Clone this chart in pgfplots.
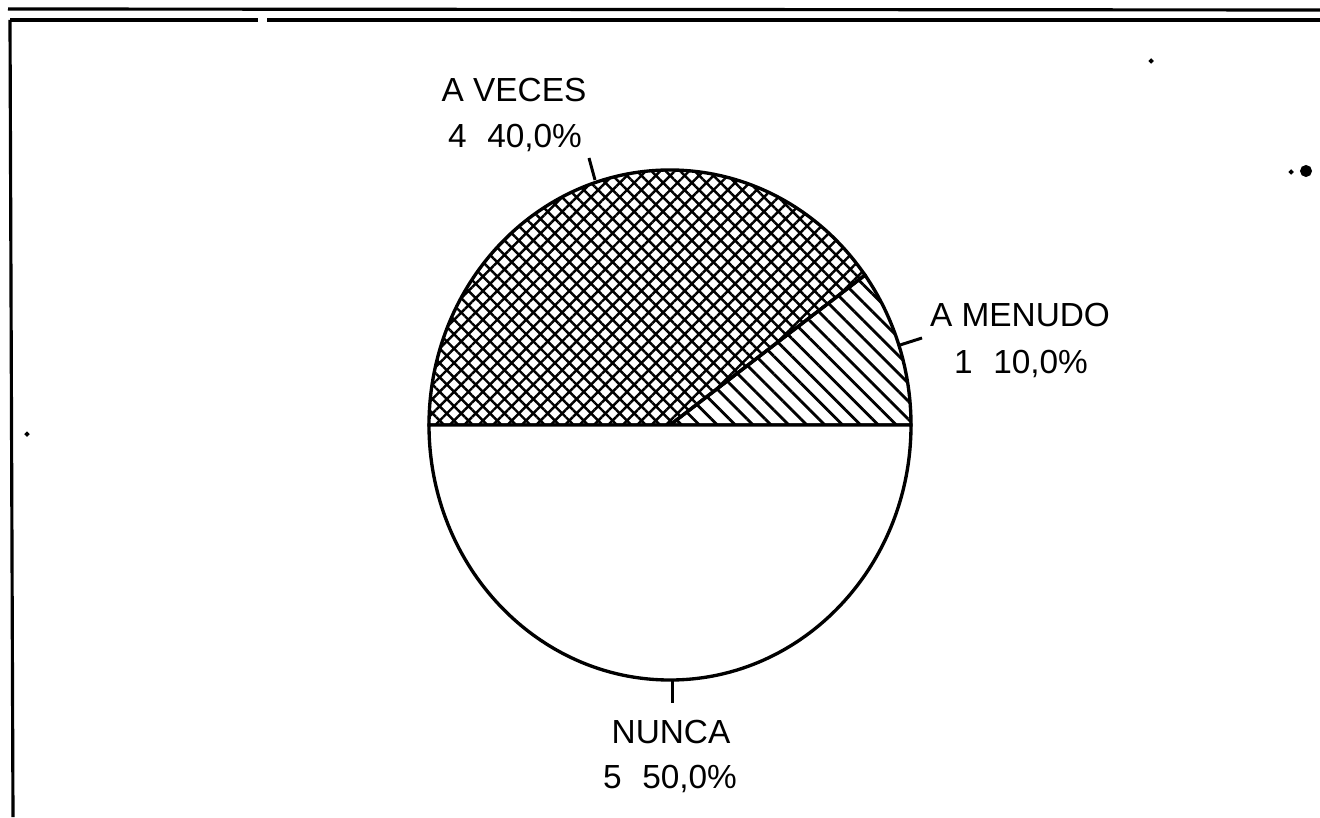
\documentclass[border=0pt]{standalone}
\usepackage{fontspec}
\setmainfont{Liberation Sans}
\usepackage{pgfplots}
\pgfplotsset{compat=1.18}
\usepackage{pgfplotstable}
\usetikzlibrary{patterns.meta}

% respuestas: cuenta por categoria
\pgfplotstableread{
label count
menudo 1
veces 4
nunca 5
}\pietable

\begin{document}
\begin{tikzpicture}[lbl/.style={font=\fontsize{9.5}{12}\selectfont, anchor=base, inner sep=0pt}]
\pgfplotstablegetelem{0}{count}\of\pietable \let\cA\pgfplotsretval
\pgfplotstablegetelem{1}{count}\of\pietable \let\cB\pgfplotsretval
\pgfplotstablegetelem{2}{count}\of\pietable \let\cC\pgfplotsretval
\pgfmathsetmacro\total{\cA+\cB+\cC}
\pgfmathsetmacro\aA{360*\cA/\total}
\pgfmathsetmacro\aB{\aA+360*\cB/\total}
\def\rx{2.41cm}\def\ry{2.55cm}
\begin{axis}[
  scale only axis, width=13.2cm, height=8.17cm,
  xmin=0, xmax=1320, ymin=0, ymax=817, y dir=reverse,
  hide axis, clip=true,
]
\path (rel axis cs:0,0) rectangle (rel axis cs:1,1);
% marco
\draw[line width=0.9pt] (axis cs:8,9) -- (axis cs:1320,10);
\draw[line width=0.9pt] (axis cs:10,20) -- (axis cs:258,20);
\draw[line width=0.9pt] (axis cs:267,20) -- (axis cs:1320,20);
\draw[line width=0.9pt] (axis cs:10,20) -- (axis cs:13,817);
% sectores
\draw[line width=0.95pt, pattern={Lines[angle=-45,distance=3.6pt,line width=0.8pt]}]
  (axis cs:670,425) -- ++(0:\rx\space and \ry) arc[start angle=0, end angle=\aA, x radius=\rx, y radius=\ry] -- cycle;
\draw[line width=0.95pt, pattern={Hatch[angle=45,distance=2.9pt,line width=0.7pt]}]
  (axis cs:670,425) -- ++(\aA:\rx\space and \ry) arc[start angle=\aA, end angle=\aB, x radius=\rx, y radius=\ry] -- cycle;
\draw[line width=0.95pt, fill=white]
  (axis cs:670,425) -- ++(\aB:\rx\space and \ry) arc[start angle=\aB, end angle=360, x radius=\rx, y radius=\ry] -- cycle;
% guias
\draw[line width=0.85pt] (axis cs:589,158) -- (axis cs:595,180);
\draw[line width=0.85pt] (axis cs:900,345) -- (axis cs:922,338);
\draw[line width=0.85pt] (axis cs:672,680) -- (axis cs:672,703);
% etiquetas
\node[lbl] at (axis cs:514,102) {A VECES};
\node[lbl] at (axis cs:515,148) {4\hspace{0.62em}40,0\%};
\node[lbl] at (axis cs:1020,327) {A MENUDO};
\node[lbl] at (axis cs:1021,373) {1\hspace{0.62em}10,0\%};
\node[lbl] at (axis cs:671,743) {NUNCA};
\node[lbl] at (axis cs:670,788) {5\hspace{0.62em}50,0\%};
% manchas del escaneo
\addplot[only marks, mark=*, mark size=1.5pt, black] coordinates {(1306,171)};
\addplot[only marks, mark=*, mark size=0.5pt, black] coordinates {(1151,61) (1291,172) (27,434)};
\end{axis}
\end{tikzpicture}
\end{document}
